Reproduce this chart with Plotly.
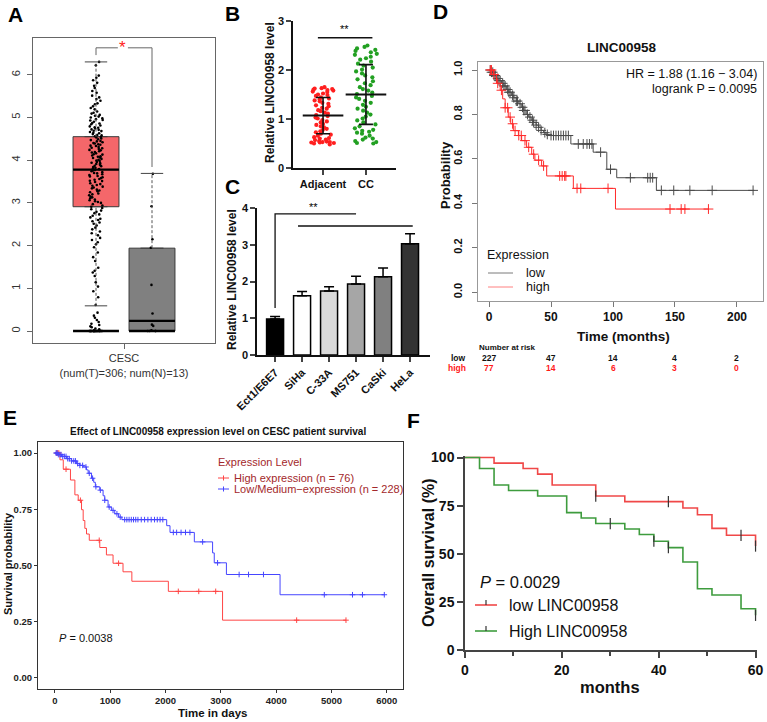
import plotly.graph_objects as go

W, H = 767, 722
FONT = "Liberation Sans, Arial, Helvetica, sans-serif"


def fx(p):
    return p / W


def fy(p):
    return 1 - p / H


# ---------------- Panel A : GEPIA box plot ----------------
a_pos = [0, 1]
a_q1 = [2.91, 0.00]
a_median = [3.78, 0.24]
a_q3 = [4.55, 1.94]
a_whisk_lo = [0.59, 0.00]
a_whisk_hi = [6.30, 3.69]
a_fill = ["#f4676a", "#808080"]
a_category = "CESC<br>(num(T)=306; num(N)=13)"
a_tumor = [
    6.30, 6.22, 5.98, 5.93, 5.87, 5.81, 5.74, 5.69, 5.62, 5.58, 5.51, 5.47,
    5.43, 5.39, 5.33, 5.31, 5.26, 5.22, 5.19, 5.14, 5.11, 5.09, 5.06, 5.04, 5.02, 5.00,
    4.98, 4.96, 4.94, 4.93, 4.90, 4.87, 4.86, 4.84, 4.81, 4.79, 4.77, 4.76, 4.74, 4.72,
    4.71, 4.69, 4.68, 4.66, 4.64, 4.63, 4.61, 4.59, 4.58, 4.56, 4.54, 4.53, 4.51,
    4.49, 4.47, 4.45, 4.44, 4.42, 4.40, 4.39, 4.37, 4.36, 4.34, 4.33, 4.31, 4.29, 4.28,
    4.26, 4.24, 4.23, 4.21, 4.19, 4.18, 4.16, 4.14, 4.13, 4.11, 4.09, 4.08, 4.06, 4.05,
    4.03, 4.01,
    3.99, 3.98, 3.96, 3.94, 3.93, 3.91, 3.89, 3.87, 3.86, 3.84, 3.82, 3.81, 3.79, 3.77,
    3.76, 3.74, 3.72, 3.70, 3.69, 3.67, 3.65, 3.63, 3.62, 3.60, 3.58, 3.56, 3.54, 3.52, 3.51,
    3.49, 3.46, 3.44, 3.42, 3.40, 3.38, 3.36, 3.34, 3.31, 3.29, 3.27, 3.25, 3.22, 3.20,
    3.18, 3.15, 3.13, 3.11, 3.08, 3.06, 3.04, 3.02, 3.00,
    2.97, 2.94, 2.91, 2.88, 2.85, 2.82, 2.79, 2.76, 2.73, 2.70, 2.66, 2.63, 2.60, 2.57,
    2.54, 2.51,
    2.47, 2.42, 2.38, 2.33, 2.29, 2.24, 2.18, 2.13, 2.08, 2.03,
    1.96, 1.84, 1.73, 1.64, 1.48, 1.41, 1.37, 1.29, 1.14, 1.04,
    0.93, 0.79, 0.61,
    0.43, 0.36, 0.31, 0.26, 0.21, 0.17, 0.14, 0.11, 0.09, 0.06, 0.04, 0.02,
    0, 0, 0, 0, 0, 0, 0, 0, 0, 0, 0, 0, 0, 0, 0, 0, 0, 0, 0, 0, 0, 0, 0, 0, 0,
]
a_normal = [3.68, 2.92, 2.15, 1.95, 1.08, 0.41, 0.15, 0.12, 0.02, 0.0, 0.0, 0.0, 0.0]
a_sig_top = 6.63
a_sig_left_end = 6.46
a_sig_right_end = 3.84

# ---------------- Panel B : scatter dot plot ----------------
b_groups = ["Adjacent", "CC"]
b_adjacent = [
    1.65, 1.63, 1.62, 1.61, 1.60, 1.59, 1.58, 1.56, 1.55, 1.52, 1.50, 1.49, 1.47, 1.44,
    1.42, 1.40, 1.38, 1.36, 1.33, 1.31, 1.28, 1.26, 1.23, 1.21, 1.18, 1.16, 1.13, 1.11,
    1.08, 1.06, 1.03, 1.01, 0.98, 0.95, 0.93, 0.90, 0.88, 0.85, 0.83, 0.80, 0.78, 0.75,
    0.73, 0.70, 0.68, 0.66, 0.63, 0.61, 0.60, 0.58, 0.57, 0.55, 0.54, 0.53, 0.53, 0.52,
    0.52, 0.51, 0.50, 0.48,
]
b_cc = [
    2.50, 2.47, 2.44, 2.41, 2.39, 2.36, 2.33, 2.31, 2.27, 2.24, 2.21, 2.17, 2.13, 2.09,
    2.05, 2.01, 1.97, 1.93, 1.89, 1.85, 1.81, 1.77, 1.73, 1.69, 1.65, 1.61, 1.58, 1.54,
    1.51, 1.47, 1.44, 1.41, 1.37, 1.33, 1.29, 1.25, 1.21, 1.17, 1.13, 1.09, 1.05, 1.01,
    0.97, 0.93, 0.89, 0.85, 0.81, 0.78, 0.76, 0.74, 0.72, 0.70, 0.66, 0.62, 0.60, 0.58,
    0.55, 0.53, 0.51, 0.50,
]
b_mean = [1.07, 1.50]
b_sd = [0.37, 0.61]
b_colors = ["#ff1f1f", "#22a022"]
b_sig_y = 2.66
b_sig_text = "**"

# ---------------- Panel C : bar chart ----------------
c_lines = ["Ect1/E6E7", "SiHa", "C-33A", "MS751", "CaSki", "HeLa"]
c_values = [0.98, 1.61, 1.74, 1.93, 2.13, 3.03]
c_errors = [0.07, 0.12, 0.12, 0.21, 0.24, 0.27]
c_colors = ["#000000", "#ffffff", "#d9d9d9", "#a6a6a6", "#808080", "#333333"]
c_sig1_y = 3.84
c_sig1_base = 1.28
c_sig2_y = 3.51
c_sig_text = "**"

# ---------------- Panel D : KM plotter ----------------
d_low_t = [0, 2, 4, 6, 8, 10, 12, 14, 16, 18, 20, 22, 24, 26, 28, 30, 32, 34, 36, 38,
           40, 42, 44, 46, 48, 66, 84, 95, 103, 135, 214]
d_low_s = [1.0, 0.99, 0.975, 0.962, 0.952, 0.94, 0.928, 0.912, 0.9, 0.886, 0.875, 0.86,
           0.848, 0.832, 0.818, 0.8, 0.788, 0.774, 0.764, 0.752, 0.742, 0.728, 0.718,
           0.71, 0.705, 0.667, 0.63, 0.553, 0.515, 0.458, 0.458]
d_low_cens = [1, 2, 3, 4, 5, 7, 8, 9, 11, 12, 13, 15, 16, 17, 19, 20, 22, 23, 25, 27, 28,
              29, 31, 33, 35, 36, 38, 40, 42, 45, 47, 50, 52, 54, 56, 58, 60, 62, 64, 72,
              76, 79, 81, 83, 90, 98, 114, 128, 130, 132, 139, 149, 162, 180, 213]
d_high_t = [0, 3.5, 6, 9, 11, 13, 15.5, 17.5, 19.6, 23.7, 26.3, 30.3, 34.4, 37, 42.4,
            46.5, 68, 102, 177]
d_high_s = [1.0, 0.98, 0.94, 0.909, 0.87, 0.83, 0.788, 0.758, 0.727, 0.705, 0.682, 0.652,
            0.621, 0.594, 0.568, 0.523, 0.467, 0.374, 0.374]
d_high_cens = [1, 2, 4, 7, 10, 13, 15, 17, 19, 21, 24, 26, 29, 32, 36, 40, 44, 57, 59,
               61, 62, 71, 74, 96, 146, 155, 158, 177]
d_risk_times = [0, 50, 100, 150, 200]
d_risk_low = [227, 47, 14, 4, 2]
d_risk_high = [77, 14, 6, 3, 0]

# ---------------- Panel E : survminer plot ----------------
e_high_t = [0, 90, 150, 280, 360, 420, 480, 510, 540, 570, 620, 810, 930, 1050, 1230,
            1390, 2050, 3030, 5262]
e_high_s = [1.0, 0.97, 0.928, 0.88, 0.814, 0.79, 0.748, 0.70, 0.665, 0.64, 0.612, 0.58,
            0.547, 0.51, 0.472, 0.43, 0.385, 0.257, 0.257]
e_high_cens = [30, 50, 70, 200, 460, 800, 1150, 2230, 2600, 2906, 4370, 5262]
e_low_t = [0, 60, 120, 210, 300, 390, 450, 510, 570, 600, 660, 700, 730, 810, 870, 900,
           960, 1020, 1080, 1150, 1210, 2020, 2080, 2520, 2850, 2880, 3100, 4070, 5955]
e_low_s = [1.0, 0.993, 0.985, 0.975, 0.965, 0.953, 0.945, 0.938, 0.925, 0.91, 0.888,
           0.87, 0.85, 0.835, 0.81, 0.79, 0.76, 0.745, 0.73, 0.715, 0.704, 0.677, 0.647,
           0.605, 0.556, 0.512, 0.46, 0.37, 0.37]
e_low_cens = [20, 40, 60, 90, 110, 140, 170, 200, 230, 260, 300, 340, 370, 410, 450, 500,
              560, 620, 680, 740, 820, 900, 980, 1050, 1120, 1180, 1260, 1300, 1340, 1380,
              1420, 1460, 1500, 1560, 1620, 1680, 1740, 1800, 1850, 1900, 1950, 2140, 2200,
              2280, 2360, 2440, 2670, 2940, 3330, 3500, 3770, 4870, 5380, 5560, 5955]

# ---------------- Panel F : GraphPad KM ----------------
f_low_t = [0, 6, 12, 15, 18, 27, 33, 45, 48, 51, 54, 60]
f_low_s = [100, 97.1, 94.3, 91.4, 85.7, 80.0, 77.1, 73.8, 70.3, 63.2, 59.6, 54.0]
f_low_cens = [27, 42, 57, 60]
f_high_t = [0, 3, 6, 9, 15, 21, 24, 27, 33, 36, 39, 42, 45, 48, 51, 57, 60]
f_high_s = [100, 94.3, 85.7, 82.9, 80.0, 71.4, 68.6, 65.7, 62.9, 60.0, 56.5, 53.2, 45.7,
            31.8, 28.6, 21.4, 18.0]
f_high_cens = [30, 39, 42, 60]


def step_at(times, surv, t):
    val = surv[0]
    for ti, si in zip(times, surv):
        if ti <= t:
            val = si
    return val


fig = go.Figure()

# ================= Panel A traces =================
for i in range(2):
    fig.add_trace(go.Box(
        x=[a_pos[i]], q1=[a_q1[i]], median=[a_median[i]], q3=[a_q3[i]],
        lowerfence=[a_q1[i]], upperfence=[a_q3[i]], width=0.82,
        fillcolor=a_fill[i], line=dict(color="#3a3a3a", width=1),
        boxpoints=False, xaxis="x", yaxis="y", hoverinfo="skip"))
    p = a_pos[i]
    fig.add_trace(go.Scatter(x=[p, p], y=[a_q3[i], a_whisk_hi[i]], mode="lines",
                             line=dict(color="#555", width=1, dash="3px,2px"),
                             xaxis="x", yaxis="y"))
    fig.add_trace(go.Scatter(x=[p, p], y=[a_whisk_lo[i], a_q1[i]], mode="lines",
                             line=dict(color="#555", width=1, dash="3px,2px"),
                             xaxis="x", yaxis="y"))
    fig.add_trace(go.Scatter(x=[p - 0.2, p + 0.2], y=[a_whisk_hi[i]] * 2, mode="lines",
                             line=dict(color="#444", width=1), xaxis="x", yaxis="y"))
    fig.add_trace(go.Scatter(x=[p - 0.2, p + 0.2], y=[a_whisk_lo[i]] * 2, mode="lines",
                             line=dict(color="#444", width=1), xaxis="x", yaxis="y"))
    fig.add_trace(go.Scatter(x=[p - 0.41, p + 0.41], y=[a_median[i]] * 2, mode="lines",
                             line=dict(color="#000", width=2.2), xaxis="x", yaxis="y"))

a_vals = [a_tumor, a_normal]
for i in range(2):
    fig.add_trace(go.Scatter(x=[a_pos[i] - 0.41, a_pos[i] + 0.41], y=[min(a_vals[i])] * 2,
                             mode="lines", line=dict(color="#000", width=2.4),
                             xaxis="x", yaxis="y"))
    fig.add_trace(go.Box(
        x=[a_pos[i]] * len(a_vals[i]), y=a_vals[i], width=0.82, boxpoints="all",
        jitter=0.3, pointpos=0, fillcolor="rgba(0,0,0,0)", line=dict(width=0),
        marker=dict(color="#000", size=2.6), xaxis="x", yaxis="y"))

fig.add_trace(go.Scatter(x=[a_pos[0], a_pos[0], 0.39], y=[a_sig_left_end, a_sig_top, a_sig_top],
                         mode="lines", line=dict(color="#666", width=1), xaxis="x", yaxis="y"))
fig.add_trace(go.Scatter(x=[0.57, a_pos[1], a_pos[1]], y=[a_sig_top, a_sig_top, a_sig_right_end],
                         mode="lines", line=dict(color="#666", width=1), xaxis="x", yaxis="y"))

# ================= Panel B traces =================
b_data = [b_adjacent, b_cc]
for i in range(2):
    fig.add_trace(go.Box(
        x=[i] * len(b_data[i]), y=b_data[i], width=0.66, boxpoints="all", jitter=1,
        pointpos=0, fillcolor="rgba(0,0,0,0)", line=dict(width=0),
        marker=dict(color=b_colors[i], size=4.2), xaxis="x2", yaxis="y2"))
fig.add_trace(go.Scatter(
    x=[0, 1], y=b_mean, mode="markers",
    marker=dict(symbol="line-ew", size=29, line=dict(color="#111", width=2)),
    error_y=dict(type="data", array=b_sd, color="#111", thickness=1.6, width=7),
    xaxis="x2", yaxis="y2"))
fig.add_trace(go.Scatter(x=[-0.12, 1.15], y=[b_sig_y, b_sig_y], mode="lines",
                         line=dict(color="#111", width=1.5), xaxis="x2", yaxis="y2"))

# ================= Panel C traces =================
fig.add_trace(go.Bar(
    x=list(range(len(c_lines))), y=c_values, width=0.63,
    marker=dict(color=c_colors, line=dict(color="#000", width=1.5)),
    error_y=dict(type="data", symmetric=False, array=c_errors,
                 arrayminus=[0] * len(c_errors), color="#000", thickness=1.5, width=5),
    xaxis="x3", yaxis="y3"))
fig.add_trace(go.Scatter(x=[0, 0, 3], y=[c_sig1_base, c_sig1_y, c_sig1_y], mode="lines",
                         line=dict(color="#111", width=1.3), xaxis="x3", yaxis="y3"))
fig.add_trace(go.Scatter(x=[0.85, 5.1], y=[c_sig2_y, c_sig2_y], mode="lines",
                         line=dict(color="#111", width=1.3), xaxis="x3", yaxis="y3"))

# ================= Panel D traces =================
for t, s, c, col in [(d_low_t, d_low_s, d_low_cens, "#4a4a4a"),
                     (d_high_t, d_high_s, d_high_cens, "#ff2a2a")]:
    fig.add_trace(go.Scatter(x=t, y=s, mode="lines", line=dict(color=col, width=1, shape="hv"),
                             xaxis="x4", yaxis="y4"))
    fig.add_trace(go.Scatter(x=c, y=[step_at(t, s, v) for v in c], mode="markers",
                             marker=dict(symbol="cross-thin", size=7,
                                         line=dict(color=col, width=1)),
                             xaxis="x4", yaxis="y4"))

# ================= Panel E traces =================
for t, s, c, col in [(e_high_t, e_high_s, e_high_cens, "#ff4545"),
                     (e_low_t, e_low_s, e_low_cens, "#4646ff")]:
    fig.add_trace(go.Scatter(x=t, y=s, mode="lines", line=dict(color=col, width=1, shape="hv"),
                             xaxis="x5", yaxis="y5"))
    fig.add_trace(go.Scatter(x=c, y=[step_at(t, s, v) for v in c], mode="markers",
                             marker=dict(symbol="cross-thin", size=4,
                                         line=dict(color=col, width=1)),
                             xaxis="x5", yaxis="y5"))

# ================= Panel F traces =================
for t, s, c, col in [(f_low_t, f_low_s, f_low_cens, "#f04848"),
                     (f_high_t, f_high_s, f_high_cens, "#3e9c3e")]:
    fig.add_trace(go.Scatter(x=t, y=s, mode="lines", line=dict(color=col, width=1.6, shape="hv"),
                             xaxis="x6", yaxis="y6"))
    fig.add_trace(go.Scatter(x=c, y=[step_at(t, s, v) for v in c], mode="markers",
                             cliponaxis=False,
                             marker=dict(symbol="line-ns", size=8,
                                         line=dict(color="#333", width=1.2)),
                             xaxis="x6", yaxis="y6"))

# ================= Layout / axes =================
base = dict(showgrid=False, zeroline=False, fixedrange=True, automargin=False)
bold = dict(family=FONT, weight="bold", color="#111")

layout = dict(
    width=W, height=H, margin=dict(l=0, r=0, t=0, b=0, pad=0, autoexpand=False),
    paper_bgcolor="white", plot_bgcolor="rgba(0,0,0,0)", showlegend=False,
    font=dict(family=FONT, color="#111"), boxmode="overlay",
    # A
    xaxis=dict(base, domain=[fx(33), fx(215)], range=[-1.125, 2.125], anchor="y",
               tickvals=[0.5], ticktext=[a_category], ticks="outside", ticklen=5,
               tickcolor="#666", showline=True, mirror=True, linecolor="#666",
               tickfont=dict(family=FONT, size=11, color="#333")),
    yaxis=dict(base, domain=[fy(343), fy(38)], range=[-0.28, 6.86], anchor="x",
               tickvals=[0, 1, 2, 3, 4, 5, 6], tickangle=-90, ticks="outside", ticklen=5,
               tickcolor="#666", showline=True, mirror=True, linecolor="#666",
               ticklabelstandoff=3,
               tickfont=dict(family=FONT, size=11, color="#333")),
    # B
    xaxis2=dict(base, domain=[fx(293), fx(396)], range=[-0.7, 1.7], anchor="y2",
                tickvals=[0, 1], ticktext=b_groups, ticks="outside", ticklen=5,
                tickwidth=1.5, showline=True, linewidth=1.5, linecolor="#111",
                tickfont=dict(bold, size=11)),
    yaxis2=dict(base, domain=[fy(168), fy(21)], range=[0, 3], anchor="x2",
                tickvals=[0, 1, 2, 3], ticks="outside", ticklen=5, tickwidth=1.5,
                showline=True, linewidth=1.5, linecolor="#111",
                tickfont=dict(bold, size=11)),
    # C
    xaxis3=dict(base, domain=[fx(257), fx(430)], range=[-0.67, 5.74], anchor="y3",
                tickvals=list(range(len(c_lines))), ticktext=c_lines, tickangle=-45,
                ticks="outside", ticklen=5, tickwidth=1.5, showline=True, linewidth=1.5,
                linecolor="#111", tickfont=dict(bold, size=11)),
    yaxis3=dict(base, domain=[fy(355), fy(208)], range=[0, 4], anchor="x3",
                tickvals=[0, 1, 2, 3, 4], ticks="outside", ticklen=5, tickwidth=1.5,
                showline=True, linewidth=1.5, linecolor="#111",
                tickfont=dict(bold, size=11)),
    # D
    xaxis4=dict(base, domain=[fx(478), fx(763)], range=[-8.9, 221], anchor="y4",
                tickvals=d_risk_times, ticks="outside", ticklen=5, tickcolor="#777",
                showline=True, mirror=True, linecolor="#999",
                tickfont=dict(bold, size=12)),
    yaxis4=dict(base, domain=[fy(301), fy(62)], range=[-0.04, 1.036], anchor="x4",
                tickvals=[0, 0.2, 0.4, 0.6, 0.8, 1.0],
                ticktext=["0.0", "0.2", "0.4", "0.6", "0.8", "1.0"], tickangle=-90,
                ticks="outside", ticklen=5, tickcolor="#777", showline=True, mirror=True,
                linecolor="#999", ticklabelstandoff=6, tickfont=dict(bold, size=11)),
    # E
    xaxis5=dict(base, domain=[fx(38), fx(403)], range=[-307, 6293], anchor="y5",
                tickvals=[0, 1000, 2000, 3000, 4000, 5000, 6000], ticks="outside",
                ticklen=3, tickcolor="#333", showline=True, mirror=True, linecolor="#333",
                tickfont=dict(bold, size=9.5, color="#222")),
    yaxis5=dict(base, domain=[fy(689), fy(442)], range=[-0.049, 1.049], anchor="x5",
                tickvals=[0, 0.25, 0.5, 0.75, 1.0],
                ticktext=["0.00", "0.25", "0.50", "0.75", "1.00"], ticks="outside",
                ticklen=3, tickcolor="#333", showline=True, mirror=True, linecolor="#333",
                tickfont=dict(bold, size=9.5, color="#222")),
    # F
    xaxis6=dict(base, domain=[fx(465), fx(757)], range=[0, 60.3], anchor="y6",
                tickvals=[0, 20, 40, 60], ticks="outside", ticklen=6, tickwidth=1.5,
                tickcolor="#444", showline=True, linewidth=1.5, linecolor="#444",
                minor=dict(tickvals=[10, 30, 50], ticks="outside", ticklen=4,
                           tickwidth=1.5, tickcolor="#444"),
                tickfont=dict(bold, size=14)),
    yaxis6=dict(base, domain=[fy(650), fy(456)], range=[0, 100.8], anchor="x6",
                tickvals=[0, 25, 50, 75, 100], ticks="outside", ticklen=6, tickwidth=1.5,
                tickcolor="#444", showline=True, linewidth=1.5, linecolor="#444",
                tickfont=dict(bold, size=14)),
)
fig.update_layout(**layout)

ann = []


def label(text, x, y, size, xanchor="center", yanchor="middle", color="#111",
          weight="normal", angle=0, style="normal"):
    ann.append(dict(text=text, x=fx(x), y=fy(y), xref="paper", yref="paper",
                    xanchor=xanchor, yanchor=yanchor, showarrow=False, textangle=angle,
                    font=dict(family=FONT, size=size, color=color, weight=weight,
                              style=style)))


# panel letters
for letter, (x, y) in {"A": (15, 14), "B": (232, 13), "C": (232, 186), "D": (440, 12),
                       "E": (10, 417), "F": (414, 420)}.items():
    label(letter, x, y, 21, weight="bold", color="#000")

# A significance star
ann.append(dict(text="*", x=0.48, y=a_sig_top, xref="x", yref="y", showarrow=False,
                yanchor="middle", font=dict(family=FONT, size=17, color="#ff2020")))

# B
label("Relative LINC00958 level", 270, 93, 12, weight="bold", angle=-90)
ann.append(dict(text=b_sig_text, x=0.5, y=b_sig_y + 0.18, xref="x2", yref="y2",
                showarrow=False, font=dict(family=FONT, size=11, color="#000")))
# C
label("Relative LINC00958 level", 232, 280, 12, weight="bold", angle=-90)
label(c_sig_text, 313, 207, 11, color="#000")
# D
label("LINC00958", 622, 47, 13.5, weight="bold")
label("Probability", 445, 175, 13, weight="bold", angle=-90)
label("Time (months)", 623, 336, 13.5, weight="bold")
label("HR = 1.88 (1.16 \u2212 3.04)", 759, 74, 12.5, xanchor="right")
label("logrank P = 0.0095", 759, 89, 12.5, xanchor="right")
label("Expression", 485, 255, 12.5, xanchor="left")
label("low", 524, 273, 12.5, xanchor="left")
label("high", 524, 287, 12.5, xanchor="left")
label("Number at risk", 477, 347, 8, xanchor="left", weight="bold")
label("low", 468, 358, 8.5, xanchor="right", weight="bold")
label("high", 468, 368, 8.5, xanchor="right", weight="bold", color="#ff1a1a")
for t, lo, hi in zip(d_risk_times, d_risk_low, d_risk_high):
    ann.append(dict(text=str(lo), x=t, y=fy(358), xref="x4", yref="paper", showarrow=False,
                    font=dict(family=FONT, size=8.5, weight="bold", color="#111")))
    ann.append(dict(text=str(hi), x=t, y=fy(368), xref="x4", yref="paper", showarrow=False,
                    font=dict(family=FONT, size=8.5, weight="bold", color="#ff1a1a")))
# E
label("Effect of LINC00958 expression level on CESC patient survival", 218, 432, 10,
      weight="bold")
label("Survival probability", 8, 564, 11, weight="bold", angle=-90)
label("Time in days", 212, 713, 11.5, weight="bold")
label("Expression Level", 216, 462, 11, xanchor="left", color="#a3282b")
label("High expression (n = 76)", 232, 478, 11, xanchor="left", color="#a3282b")
label("Low/Medium\u2212expression (n = 228)", 232, 489, 11, xanchor="left", color="#a3282b")
label("<i>P</i> = 0.0038", 57, 638, 11, xanchor="left")
# F
label("Overall survival (%)", 428, 553, 16, weight="bold", angle=-90)
label("months", 610, 687, 16.5, weight="bold")
label("<i>P</i> = 0.0029", 478, 582, 16.5, xanchor="left")
label("low LINC00958", 507, 605, 16, xanchor="left")
label("High LINC00958", 507, 631, 16, xanchor="left")

fig.update_layout(annotations=ann)

# legend samples (decoration)
shapes = []


def seg(x0, y0, x1, y1, color, width=1):
    shapes.append(dict(type="line", xref="paper", yref="paper", x0=fx(x0), y0=fy(y0),
                       x1=fx(x1), y1=fy(y1), line=dict(color=color, width=width)))


seg(488, 273, 513, 273, "#7a7a7a")
seg(488, 287, 513, 287, "#ff8080")
seg(218, 478, 229, 478, "#ff4545")
seg(223.5, 475.5, 223.5, 480.5, "#ff4545")
seg(218, 489, 229, 489, "#4646ff")
seg(223.5, 486.5, 223.5, 491.5, "#4646ff")
seg(475, 605, 497, 605, "#f04848", 1.6)
seg(486, 600, 486, 605, "#333", 1.2)
seg(475, 631, 497, 631, "#3e9c3e", 1.6)
seg(486, 626, 486, 631, "#333", 1.2)
fig.update_layout(shapes=shapes)

fig.write_html("out.html")
